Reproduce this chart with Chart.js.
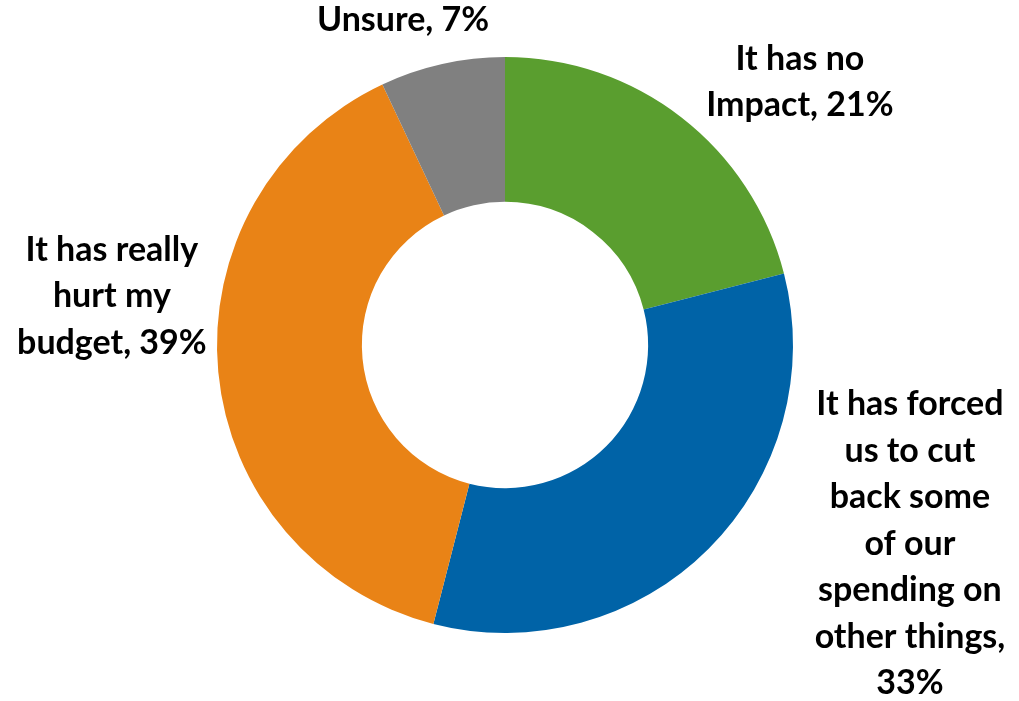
<!DOCTYPE html>
<html>
<head>
<meta charset="utf-8">
<script src="https://cdn.jsdelivr.net/npm/chart.js@4/dist/chart.umd.min.js"></script>
<style>
  html, body { margin: 0; padding: 0; background: #ffffff; }
  #wrap { width: 1019px; height: 701px; position: relative; }
</style>
</head>
<body>
<div id="wrap"><canvas id="c"></canvas></div>
<script>
const categories = ["It has no Impact", "It has forced us to cut back some of our spending on other things", "It has really hurt my budget", "Unsure"];
const values = [21, 33, 39, 7];
const labelLines = [
  ["It has no", "Impact, 21%"],
  ["It has forced", "us to cut", "back some", "of our", "spending on", "other things,", "33%"],
  ["It has really", "hurt my", "budget, 39%"],
  ["Unsure, 7%"]
];
const colors = ["#5A9E2F", "#0063A7", "#E98316", "#808080"];
// label block centres, in units of the outer radius relative to the chart centre
const labelAnchors = [[1.024, -0.913], [1.406, 0.691], [-1.365, -0.170], [-0.354, -1.128]];

const labelPlugin = {
  id: 'outsideLabels',
  afterDatasetsDraw(chart) {
    const ctx = chart.ctx;
    const meta = chart.getDatasetMeta(0);
    ctx.save();
    ctx.font = 'bold 34px Lato';
    ctx.fillStyle = '#000000';
    ctx.textAlign = 'center';
    ctx.textBaseline = 'middle';
    const lh = 46.5;
    meta.data.forEach((arc, i) => {
      const r = arc.outerRadius;
      const cx = arc.x + labelAnchors[i][0] * r;
      const cy = arc.y + labelAnchors[i][1] * r;
      const lines = labelLines[i];
      const y0 = cy - (lines.length - 1) * lh / 2;
      lines.forEach((t, k) => ctx.fillText(t, cx, y0 + k * lh));
    });
    ctx.restore();
  }
};

new Chart(document.getElementById('c'), {
  type: 'doughnut',
  data: {
    labels: categories,
    datasets: [{
      data: values,
      backgroundColor: colors,
      borderWidth: 0
    }]
  },
  options: {
    responsive: true,
    maintainAspectRatio: false,
    animation: false,
    cutout: '49.7%',
    layout: { padding: { top: 57, bottom: 68, left: 217, right: 226 } },
    plugins: { legend: { display: false }, tooltip: { enabled: false } }
  },
  plugins: [labelPlugin]
});
</script>
</body>
</html>
